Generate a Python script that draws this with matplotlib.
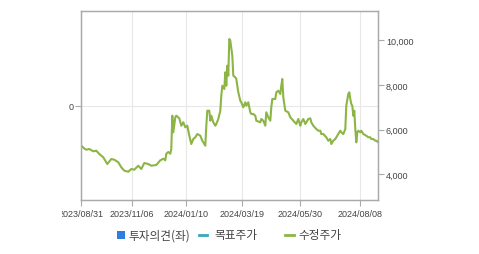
import matplotlib
matplotlib.use("Agg")
import matplotlib.pyplot as plt
from matplotlib.patches import Rectangle
from matplotlib.lines import Line2D
from matplotlib.transforms import Bbox, TransformedBbox

plt.rcParams['font.family'] = ['Liberation Sans', 'Noto Sans CJK KR', 'DejaVu Sans']

# sample index (trading-day position) and adjusted price
day_idx = [0, 3, 5, 8, 12, 15, 18, 22, 26, 30, 33, 37, 40, 43, 47, 50, 53, 57, 60, 63,
           67, 70, 75, 79, 82, 84, 85, 87, 89, 90, 91, 92, 94, 95, 98, 100, 102, 104, 106, 108,
           110, 112, 114, 116, 119, 121, 124, 125, 126, 128, 129, 130, 132, 134, 135, 137, 139, 140, 141, 143,
           144, 145, 146, 147, 148, 149, 151, 152, 154, 155, 157, 159, 160, 162, 164, 165, 167, 169, 170, 172,
           174, 175, 179, 180, 182, 184, 185, 187, 189, 190, 191, 194, 195, 197, 199, 200, 201, 202, 204, 207,
           209, 212, 215, 217, 219, 220, 222, 224, 225, 227, 229, 230, 232, 235, 237, 239, 240, 242, 245, 247,
           249, 250, 252, 254, 255, 259, 260, 262, 264, 265, 267, 268, 269, 270, 271, 272, 273, 274, 275, 276,
           277, 279, 280, 282, 285, 287, 289, 290, 292, 294, 295, 297]
price = [5277, 5151, 5098, 5129, 5026, 5053, 4905, 4757, 4457, 4681, 4650, 4533, 4309, 4157, 4112, 4233, 4202, 4381, 4233, 4502,
         4457, 4381, 4412, 4623, 4694, 4623, 4918, 4995, 4918, 5142, 6621, 5877, 6549, 6621, 6504, 6173, 6325, 6101, 6173, 5725,
         5353, 5577, 5653, 5801, 5725, 5501, 5277, 6173, 6845, 6845, 6397, 6621, 6325, 6173, 6249, 6473, 6845, 7517, 7965, 7817,
         8565, 7965, 8861, 8413, 10057, 9981, 9309, 8413, 8341, 8265, 7669, 7293, 7221, 6997, 7221, 7069, 7221, 6773, 6697, 6697,
         6621, 6397, 6325, 6473, 6397, 6173, 6773, 6549, 6397, 6997, 7369, 7369, 7669, 7741, 7593, 7965, 8265, 7445, 6845, 6773,
         6549, 6397, 6249, 6473, 6173, 6325, 6473, 6249, 6325, 6473, 6504, 6325, 6173, 6025, 5949, 5949, 5801, 5801, 5653, 5501,
         5577, 5353, 5501, 5577, 5653, 5949, 5877, 5801, 6025, 7069, 7593, 7669, 7369, 7145, 7069, 6621, 6845, 6025, 5429, 5877,
         5949, 5877, 5949, 5801, 5725, 5653, 5653, 5577, 5577, 5501, 5501, 5429]

tick_idx = [0, 51, 105, 161, 219, 279]
tick_labels = ['2023/08/31', '2023/11/06', '2024/01/10', '2024/03/19', '2024/05/30', '2024/08/08']
price_ticks = [4000, 6000, 8000, 10000]
opinion_ticks = [0]

W, H = 479, 255
fig = plt.figure(figsize=(W / 100, H / 100), dpi=100)
left, right, top, bottom = 81.3, 378.3, 12.3, 200.7
ax = fig.add_axes([left / W, 1 - bottom / H, (right - left) / W, (bottom - top) / H])
ax2 = ax.twinx()

grid_c = '#e8e8e8'
spine_c = '#aaaaaa'
text_c = '#444444'

ax.set_xlim(0, 297)
ax.set_ylim(-1, 1)
ax.set_yticks(opinion_ticks)
ax.set_yticklabels(['0'])
ax.set_xticks(tick_idx)
ax.set_xticklabels(tick_labels)
ax.grid(True, color=grid_c, linewidth=0.8)
ax.set_axisbelow(True)

ax2.plot(day_idx, price, color='#8cb545', linewidth=1.5, solid_joinstyle='round')
ax2.set_ylim(2858, 11298)
ax2.set_yticks(price_ticks)
ax2.set_yticklabels([f'{v:,}' for v in price_ticks])

for a in (ax, ax2):
    for s in a.spines.values():
        s.set_color(spine_c)
        s.set_linewidth(0.9)
    a.tick_params(colors=spine_c, labelcolor=text_c, labelsize=6.5, length=4, width=0.8, pad=1.5)
ax.tick_params(axis='x', pad=3)

# first date label is cut at its left edge in the original
first = ax.get_xticklabels()[0]
first.set_clip_box(TransformedBbox(Bbox([[62 / W, 0], [1, 1]]), fig.transFigure))
first.set_clip_on(True)

# legend
fig.patches.append(Rectangle((117 / W, 1 - 240 / H), 8 / W, 8 / H, transform=fig.transFigure,
                             facecolor='#2f7de0', edgecolor='none'))
fig.lines.append(Line2D([199 / W, 207 / W], [1 - 235.5 / H] * 2, transform=fig.transFigure,
                        color='#3aa8b8', linewidth=2))
fig.lines.append(Line2D([285 / W, 294 / W], [1 - 235.5 / H] * 2, transform=fig.transFigure,
                        color='#8cb545', linewidth=2))
for x, t in [(128, '투자의견(좌)'), (214, '목표주가'), (298, '수정주가')]:
    fig.text(x / W, 1 - 236 / H, t, fontsize=8.4, color=text_c, va='center', ha='left',
             family=['Noto Sans CJK KR', 'DejaVu Sans'])

fig.savefig('out.png', dpi=100)
